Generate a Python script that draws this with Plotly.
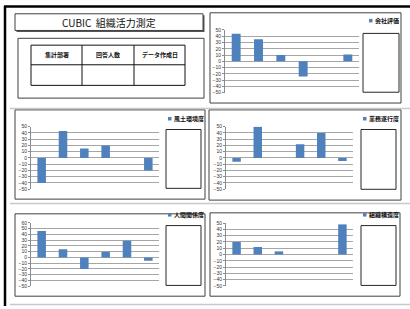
import plotly.graph_objects as go

W, H = 410, 309

# ---- data ----
categories = ["項目1", "項目2", "項目3", "項目4", "項目5", "項目6"]
series_names = ["会社評価", "風土環境度", "業務遂行度", "人間関係度", "組織構造度"]
v_kaisha = [44, 35, 10, -24, 0, 11]
v_fudo = [-40, 43, 15, 20, 0, -20]
v_gyomu = [-6, 50, 0, 22, 40, -5]
v_ningen = [46, 14, -20, 10, 29, -6]
v_soshiki = [20, 12, 5, 0, 0, 48]
y_tops = [50, 50, 50, 60, 50]
y_bottom = -50
title_text = "CUBIC  組織活力測定"
table_headers = ["集計部署", "回答人数", "データ作成日"]

series_values = [v_kaisha, v_fudo, v_gyomu, v_ningen, v_soshiki]

# ---- layout geometry (pixels) ----
plot_px = [
    (225, 359, 27.3, 91.7),
    (31, 159, 126, 190),
    (226, 353, 126, 190),
    (31, 159, 224, 289),
    (226, 353, 224.3, 288.7),
]
panels_px = [
    (210, 10, 401, 102),
    (15, 109, 205, 200),
    (209, 109, 401, 201),
    (15, 215, 205, 299),
    (210, 214, 400, 299),
]
legend_boxes = [
    (363, 31, 399, 91),
    (166, 129, 201, 189),
    (361, 129, 396, 190),
    (166, 227, 201, 288),
    (361, 227, 396, 288),
]
legend_marks = [
    (369, 18),
    (168, 118),
    (363, 118),
    (168, 216),
    (363, 216),
]


def fx(x):
    return x / W


def fy(y):
    return 1 - y / H


BLUE = "#4F81BD"
GRID = "#a6a6a6"
EDGE = "#404040"
JP = "Noto Sans CJK JP"

fig = go.Figure()
shapes = []
annotations = []

for i, (vals, name) in enumerate(zip(series_values, series_names)):
    k = "" if i == 0 else str(i + 1)
    fig.add_trace(go.Bar(
        x=categories, y=vals, name=name,
        marker=dict(color=BLUE, line=dict(width=0)),
        xaxis="x" + k, yaxis="y" + k, showlegend=False,
    ))
    x0, x1, yt, yb = plot_px[i]
    fig.layout["xaxis" + k] = dict(
        domain=[fx(x0), fx(x1)], anchor="y" + k,
        showticklabels=False, showgrid=False, zeroline=False,
        showline=False, ticks="", range=[-0.5, 5.5], fixedrange=True,
    )
    fig.layout["yaxis" + k] = dict(
        domain=[fy(yb), fy(yt)], anchor="x" + k,
        range=[y_bottom - 0.3, y_tops[i] + 0.3], dtick=10, tick0=0,
        showgrid=True, gridcolor=GRID, gridwidth=1,
        zeroline=True, zerolinecolor=GRID, zerolinewidth=1,
        showline=True, linecolor="#8c8c8c", linewidth=1,
        ticks="outside", ticklen=2, tickcolor="#8c8c8c",
        tickfont=dict(size=5, color="#333333", family="Liberation Sans"),
        fixedrange=True,
    )
    px0, py0, px1, py1 = panels_px[i]
    shapes.append(dict(type="rect", xref="paper", yref="paper",
                       x0=fx(px0), x1=fx(px1), y0=fy(py1), y1=fy(py0),
                       line=dict(color=EDGE, width=1), layer="below"))
    bx0, by0, bx1, by1 = legend_boxes[i]
    shapes.append(dict(type="rect", xref="paper", yref="paper",
                       x0=fx(bx0), x1=fx(bx1), y0=fy(by1), y1=fy(by0),
                       line=dict(color="#262626", width=1)))
    mx, my = legend_marks[i]
    shapes.append(dict(type="rect", xref="paper", yref="paper",
                       x0=fx(mx), x1=fx(mx + 3.5), y0=fy(my + 1.8), y1=fy(my - 1.8),
                       line=dict(width=0), fillcolor=BLUE))
    annotations.append(dict(xref="paper", yref="paper", x=fx(mx + 4), y=fy(my),
                            xanchor="left", yanchor="middle", showarrow=False,
                            text="<b>" + name + "</b>",
                            font=dict(size=6, color="#111111", family=JP)))

# title box with shadow
shapes.append(dict(type="rect", xref="paper", yref="paper",
                   x0=fx(16.5), x1=fx(204.5), y0=fy(29.5), y1=fy(12.5),
                   line=dict(width=0), fillcolor="#555555", layer="below"))
shapes.append(dict(type="rect", xref="paper", yref="paper",
                   x0=fx(15), x1=fx(203), y0=fy(28), y1=fy(11),
                   line=dict(color=EDGE, width=1), fillcolor="white"))
annotations.append(dict(xref="paper", yref="paper", x=fx(109), y=fy(19.5),
                        xanchor="center", yanchor="middle", showarrow=False,
                        text=title_text,
                        font=dict(size=10, color="#111111", family=JP)))

# table outer box
shapes.append(dict(type="rect", xref="paper", yref="paper",
                   x0=fx(18), x1=fx(204), y0=fy(97), y1=fy(36),
                   line=dict(color=EDGE, width=1)))
tx = [31, 82, 134, 185]
ty0, tymid, ty1 = 43, 63, 84
shapes.append(dict(type="rect", xref="paper", yref="paper",
                   x0=fx(tx[0]), x1=fx(tx[-1]), y0=fy(ty1), y1=fy(ty0),
                   line=dict(color="#111111", width=1)))
shapes.append(dict(type="line", xref="paper", yref="paper",
                   x0=fx(tx[0]), x1=fx(tx[-1]), y0=fy(tymid), y1=fy(tymid),
                   line=dict(color="#111111", width=1)))
for xx in tx[1:-1]:
    shapes.append(dict(type="line", xref="paper", yref="paper",
                       x0=fx(xx), x1=fx(xx), y0=fy(ty1), y1=fy(ty0),
                       line=dict(color="#111111", width=1)))
for j, h in enumerate(table_headers):
    annotations.append(dict(xref="paper", yref="paper",
                            x=fx((tx[j] + tx[j + 1]) / 2), y=fy((ty0 + tymid) / 2),
                            xanchor="center", yanchor="middle", showarrow=False,
                            text="<b>" + h + "</b>",
                            font=dict(size=6, color="#111111", family=JP)))

# outer thick frame (top + left)
shapes.append(dict(type="line", xref="paper", yref="paper",
                   x0=fx(4), x1=fx(410), y0=fy(3.5), y1=fy(3.5),
                   line=dict(color="black", width=2.5)))
shapes.append(dict(type="line", xref="paper", yref="paper",
                   x0=fx(5), x1=fx(5), y0=fy(309), y1=fy(3),
                   line=dict(color="black", width=2.5)))
for yy in [107.5, 204.5, 307.5]:
    shapes.append(dict(type="line", xref="paper", yref="paper",
                       x0=fx(10), x1=fx(410), y0=fy(yy), y1=fy(yy),
                       line=dict(color="#c8c8c8", width=1.5)))

fig.update_layout(
    width=W, height=H,
    margin=dict(l=0, r=0, t=0, b=0),
    paper_bgcolor="white", plot_bgcolor="white",
    bargap=0.6,
    shapes=shapes, annotations=annotations,
    showlegend=False,
)

fig.write_html(
    "out.html",
    config={"displayModeBar": False},
    post_script="document.body.style.margin='0';document.body.style.overflow='hidden';",
)
